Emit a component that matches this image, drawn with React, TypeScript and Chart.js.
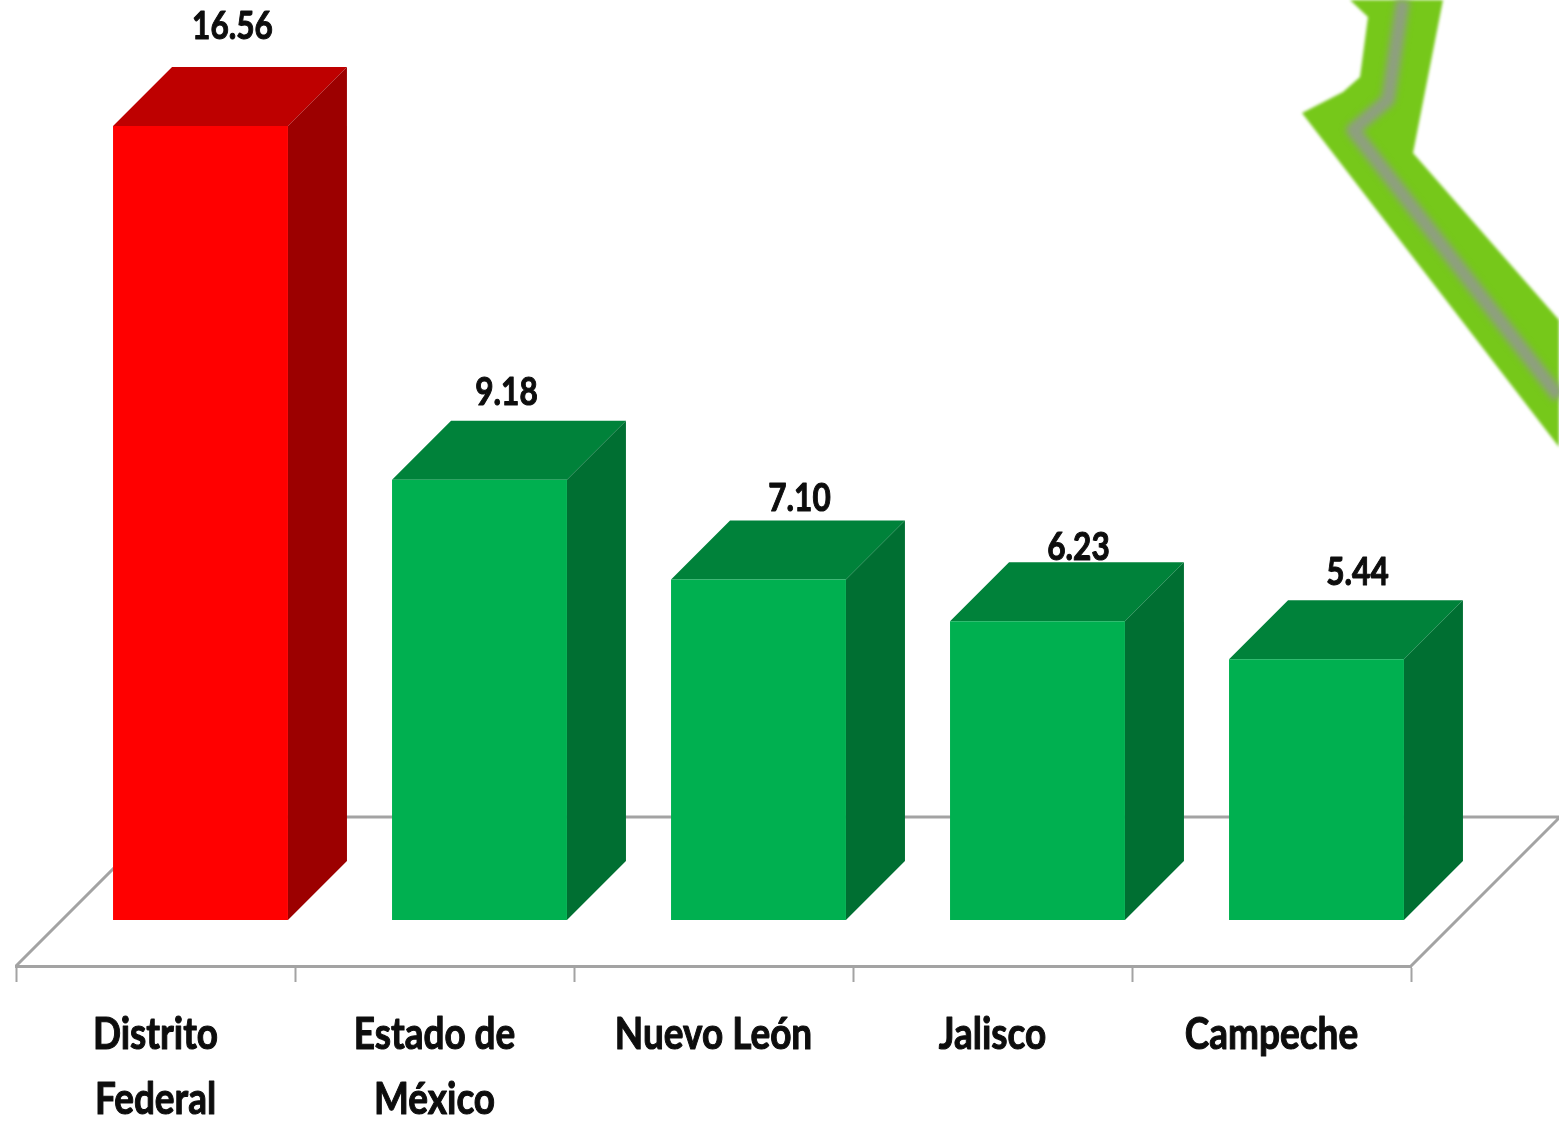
import React, { useEffect, useRef } from "react";
import { Chart, registerables } from "chart.js";

Chart.register(...registerables);

const categories = [
  ["Distrito", "Federal"],
  ["Estado de", "México"],
  ["Nuevo León"],
  ["Jalisco"],
  ["Campeche"],
];
const values = [16.56, 9.18, 7.1, 6.23, 5.44];

const frontColors = ["#FF0000", "#00B050", "#00B050", "#00B050", "#00B050"];
const topColors = ["#BE0000", "#00823A", "#00823A", "#00823A", "#00823A"];
const sideColors = ["#9C0000", "#006F32", "#006F32", "#006F32", "#006F32"];

// label placement relative to each bar's front-top corner centre
const labelShiftX = [32, 27, 41, 41, 41];
const labelShiftY = [100, 87, 81, 74, 87];

// decorative map outline behind the chart (not data)
const mapOutline = [
  [1350, 0], [1368, 17], [1360, 77], [1343, 92], [1302, 113], [1559, 447],
  [1559, 320], [1413, 153], [1443, 0],
];
const mapCentre = [[1403, 0], [1388, 100], [1353, 130], [1559, 397]];

const BAR_SHIFT = 45;
const DEPTH_X = 59;
const DEPTH_Y = 59;
const FLOOR_DEPTH = 149;
const GREY = "#A3A3A3";
const FONT = 'Lato, "Liberation Sans", sans-serif';
const TEXT_COLOR = "#0D0D0D";
const TICK_FONT_SIZE = 44;
const TICK_SQUEEZE = 0.84;
const TICK_FIRST_LINE = 69;
const TICK_LINE_HEIGHT = 65;
const VALUE_FONT_SIZE = 39;
const VALUE_SQUEEZE = 0.81;

function squeezedText(ctx: any, text: string, x: number, y: number, squeeze: number) {
  ctx.save();
  ctx.translate(x, y);
  ctx.scale(squeeze, 1);
  ctx.lineWidth = 1.1;
  ctx.strokeStyle = TEXT_COLOR;
  ctx.lineJoin = "round";
  ctx.strokeText(text, 0, 0);
  ctx.fillText(text, 0, 0);
  ctx.restore();
}

const scenePlugin = {
  id: "scene",
  beforeDraw(chart: any) {
    const { ctx } = chart;
    ctx.save();
    ctx.fillStyle = "#FFFFFF";
    ctx.fillRect(0, 0, chart.width, chart.height);
    ctx.filter = "blur(1.5px)";
    ctx.beginPath();
    mapOutline.forEach(([x, y], i) => (i ? ctx.lineTo(x, y) : ctx.moveTo(x, y)));
    ctx.closePath();
    ctx.fillStyle = "#76C81A";
    ctx.fill();
    ctx.filter = "blur(3px)";
    ctx.beginPath();
    mapCentre.forEach(([x, y], i) => (i ? ctx.lineTo(x, y) : ctx.moveTo(x, y)));
    ctx.strokeStyle = "#8E9F80";
    ctx.lineWidth = 14;
    ctx.lineJoin = "round";
    ctx.stroke();
    ctx.restore();
  },
  beforeDatasetsDraw(chart: any) {
    const { ctx, chartArea } = chart;
    const { left, right, bottom } = chartArea;
    ctx.save();
    ctx.strokeStyle = GREY;
    ctx.lineWidth = 3;
    ctx.beginPath();
    ctx.moveTo(left, bottom);
    ctx.lineTo(left + FLOOR_DEPTH, bottom - FLOOR_DEPTH);
    ctx.lineTo(right + FLOOR_DEPTH, bottom - FLOOR_DEPTH);
    ctx.lineTo(right, bottom);
    ctx.stroke();
    ctx.restore();

    const bars = chart.getDatasetMeta(0).data;
    ctx.save();
    bars.forEach((bar: any, i: number) => {
      const l = bar.x - bar.width / 2 + BAR_SHIFT;
      const r = bar.x + bar.width / 2 + BAR_SHIFT;
      const t = bar.y;
      const b = bar.base;
      ctx.fillStyle = topColors[i];
      ctx.beginPath();
      ctx.moveTo(l, t);
      ctx.lineTo(l + DEPTH_X, t - DEPTH_Y);
      ctx.lineTo(r + DEPTH_X, t - DEPTH_Y);
      ctx.lineTo(r, t);
      ctx.closePath();
      ctx.fill();
      ctx.fillStyle = sideColors[i];
      ctx.beginPath();
      ctx.moveTo(r, t);
      ctx.lineTo(r + DEPTH_X, t - DEPTH_Y);
      ctx.lineTo(r + DEPTH_X, b - DEPTH_Y);
      ctx.lineTo(r, b);
      ctx.closePath();
      ctx.fill();
    });
    ctx.restore();
    ctx.save();
    ctx.translate(BAR_SHIFT, 0);
  },
  afterDatasetsDraw(chart: any) {
    const { ctx, chartArea } = chart;
    ctx.restore();
    const bars = chart.getDatasetMeta(0).data;
    ctx.save();
    ctx.fillStyle = TEXT_COLOR;
    ctx.textAlign = "center";
    ctx.textBaseline = "middle";
    ctx.font = `bold ${VALUE_FONT_SIZE}px ${FONT}`;
    bars.forEach((bar: any, i: number) => {
      squeezedText(
        ctx,
        values[i].toFixed(2),
        bar.x + BAR_SHIFT + labelShiftX[i],
        bar.y - labelShiftY[i],
        VALUE_SQUEEZE
      );
    });
    ctx.font = `bold ${TICK_FONT_SIZE}px ${FONT}`;
    const xScale = chart.scales.x;
    xScale.ticks.forEach((tick: any, i: number) => {
      const lines = ([] as string[]).concat(tick.label);
      lines.forEach((line, n) => {
        squeezedText(
          ctx,
          line,
          xScale.getPixelForTick(i),
          chartArea.bottom + TICK_FIRST_LINE + n * TICK_LINE_HEIGHT,
          TICK_SQUEEZE
        );
      });
    });
    ctx.restore();
  },
};

export default function App() {
  const ref = useRef<HTMLCanvasElement>(null);
  useEffect(() => {
    const chart = new Chart(ref.current as HTMLCanvasElement, {
      type: "bar",
      data: {
        labels: categories as any,
        datasets: [
          {
            data: values,
            backgroundColor: frontColors,
            borderWidth: 0,
            barPercentage: 0.627,
            categoryPercentage: 1,
          },
        ],
      },
      options: {
        responsive: false,
        animation: false,
        layout: { padding: { left: 16, right: 148, top: 0, bottom: 0 } },
        plugins: { legend: { display: false }, tooltip: { enabled: false } },
        scales: {
          x: {
            afterFit(scale: any) {
              scale.height = 155;
            },
            border: { display: true, color: GREY, width: 3 },
            grid: {
              drawOnChartArea: false,
              drawTicks: true,
              tickLength: 16,
              tickColor: GREY,
              tickWidth: 2,
              color: GREY,
            },
            ticks: {
              autoSkip: false,
              maxRotation: 0,
              minRotation: 0,
              color: "rgba(0,0,0,0)",
              padding: 26,
              font: { family: FONT, size: 30, weight: "bold" },
            },
          },
          y: {
            display: false,
            min: -0.9593,
            max: 19.187,
          },
        },
      } as any,
      plugins: [scenePlugin],
    });
    return () => chart.destroy();
  }, []);
  return (
    <div style={{ position: "absolute", left: 0, top: 0, width: 1559, height: 1121, overflow: "hidden" }}>
      <canvas ref={ref} width={1559} height={1121} style={{ display: "block" }} />
    </div>
  );
}
